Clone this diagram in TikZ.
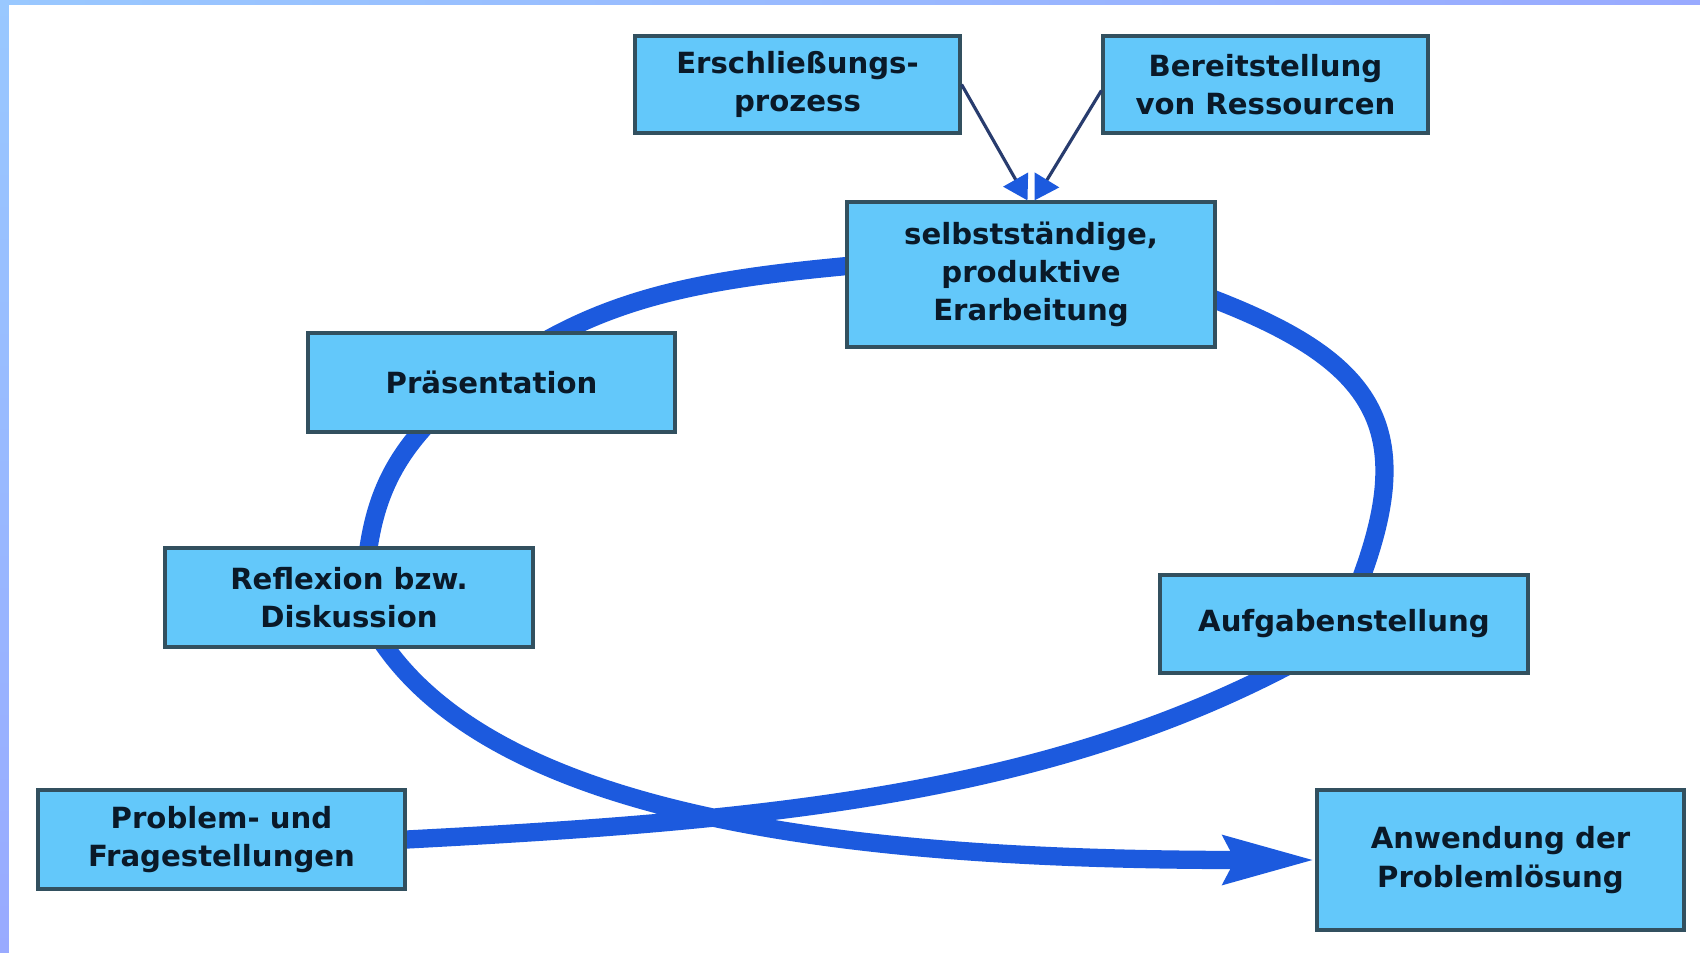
\documentclass[tikz,border=0pt]{standalone}
\usepackage{fontspec}
\newfontfamily\boxfont{DejaVu Sans}
\usepackage{tikz}
\usetikzlibrary{arrows.meta,backgrounds}
\definecolor{boxfill}{RGB}{99,200,250}
\definecolor{boxline}{RGB}{50,80,95}
\definecolor{boxtext}{RGB}{10,25,40}
\definecolor{loopblue}{RGB}{28,90,222}
\definecolor{feedline}{RGB}{40,60,110}
\definecolor{frameA}{RGB}{153,200,255}
\definecolor{frameB}{RGB}{153,170,255}

\begin{document}
\begin{tikzpicture}[font=\boxfont\bfseries\fontsize{8.3}{10.9}\selectfont,
  box/.style={rectangle,fill=boxfill,draw=boxline,text=boxtext,line width=0.9pt,inner sep=0pt,align=center},
  loopline/.style={draw=loopblue,line width=5.2pt,line join=round},
  feed/.style={draw=feedline,line width=0.9pt}]
\useasboundingbox (0,0) rectangle (17,-9.53);
\shade[left color=frameA,right color=frameB] (0,0) rectangle (17,-0.05);
\shade[top color=frameA,bottom color=frameB] (0,0) rectangle (0.09,-9.53);
\node[box,minimum width=32.5mm,minimum height=9.7mm] (erschl) at (7.975,-0.845) {Erschließungs-\\prozess};
\node[box,minimum width=32.5mm,minimum height=9.7mm] (bereit) at (12.655,-0.845) {Bereitstellung\\von Ressourcen};
\node[box,minimum width=36.8mm,minimum height=14.5mm] (selbst) at (10.31,-2.745) {selbstständige,\\produktive\\Erarbeitung};
\node[box,minimum width=36.7mm,minimum height=9.9mm] (praes) at (4.915,-3.825) {Präsentation};
\node[box,minimum width=36.8mm,minimum height=9.9mm] (reflex) at (3.49,-5.975) {Reflexion bzw.\\Diskussion};
\node[box,minimum width=36.8mm,minimum height=9.8mm] (aufgabe) at (13.44,-6.24) {Aufgabenstellung};
\node[box,minimum width=36.7mm,minimum height=9.9mm] (problem) at (2.215,-8.395) {Problem- und\\Fragestellungen};
\node[box,minimum width=36.7mm,minimum height=14mm] (anwend) at (15.005,-8.60) {Anwendung der\\Problemlösung};
\begin{scope}[on background layer]
\fill[white] (0.09,-0.05) rectangle (17,-9.53);
\draw[loopline,-{Stealth[length=9mm,width=4.6mm,inset=1mm]}] (problem.east)
  .. controls +(3:3.5) and +(208:2.85) .. ([xshift=-0.5cm,yshift=0.12cm]aufgabe.south)
  -- ([xshift=0.1cm,yshift=-0.23cm]aufgabe.north)
  .. controls +(68:1.85) and +(-20:1.95) .. ([xshift=-0.235cm,yshift=-0.17cm]selbst.east)
  -- ([xshift=0.24cm,yshift=0.105cm]selbst.west)
  .. controls +(185:1.45) and +(30:1.05) .. ([xshift=0.483cm,yshift=-0.125cm]praes.north)
  -- ([xshift=-0.563cm,yshift=0.177cm]praes.south)
  .. controls +(225:0.65) and +(85:0.65) .. ([xshift=0.168cm,yshift=-0.249cm]reflex.north)
  -- ([xshift=0.235cm,yshift=0.217cm]reflex.south)
  .. controls +(-60:2.25) and +(180:4.5) .. (anwend.west);
\end{scope}
\draw[feed,-{Triangle[length=2.4mm,width=2.8mm,color=loopblue]}] (erschl.east) -- ([xshift=-1pt]selbst.north);
\draw[feed,-{Triangle[length=2.4mm,width=2.8mm,color=loopblue]}] ([yshift=-0.06cm]bereit.west) -- ([xshift=1pt]selbst.north);
\end{tikzpicture}
\end{document}
